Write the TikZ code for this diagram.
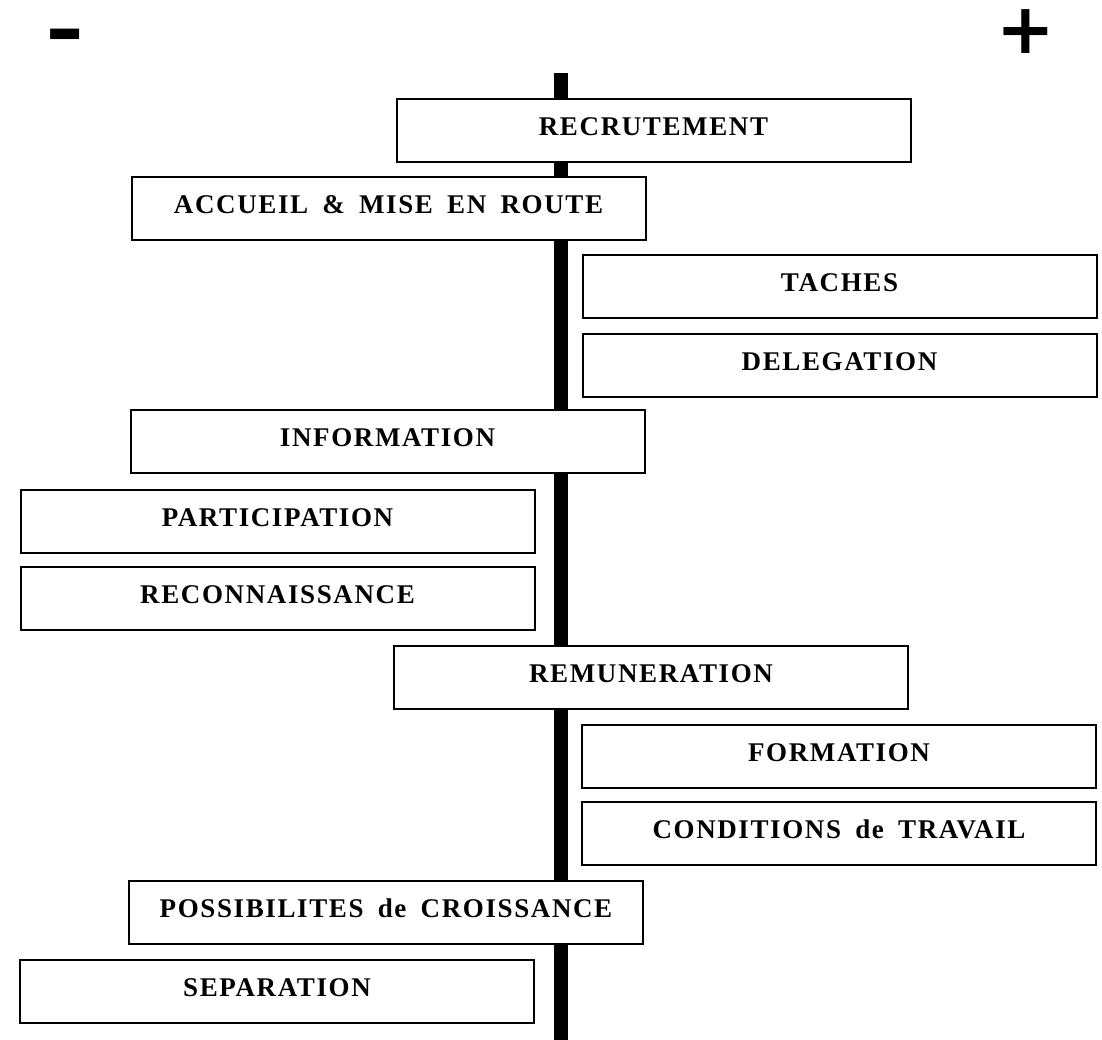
\documentclass[tikz,border=0pt]{standalone}
\usepackage{fontspec}
\setmainfont{Liberation Serif}
\newfontfamily\boxfont[LetterSpace=6,WordSpace=1.7]{Liberation Serif}
\newfontfamily\signfont{DejaVu Sans}
\begin{document}
\begin{tikzpicture}[x=1pt,y=-1pt,
  stage/.style={draw, line width=2pt, fill=white, rectangle, inner sep=0pt,
    minimum width=514pt, minimum height=63pt, text height=18pt, text depth=8pt,
    font=\boxfont\bfseries\fontsize{27}{30}\selectfont},
  axisline/.style={line width=14pt},
  sign/.style={inner sep=0pt, font=\signfont\bfseries\fontsize{70}{72}\selectfont}]
\useasboundingbox (0,0) rectangle (1102,1040);
\coordinate (top) at (561,73);
\coordinate (bottom) at (561,1040);
\draw[axisline] (top) -- (bottom);
\node[sign] (minus) at (65.5,42.5) {\scalebox{1.35}[1.05]{-}};
\node[sign] (plus) at (1026,32) {+};
\node[stage] (recrutement) at (653.5,130.5) {RECRUTEMENT};
\node[stage] (accueil) at (388.5,208.5) {ACCUEIL \& MISE EN ROUTE};
\node[stage] (taches) at (839.5,286.5) {TACHES};
\node[stage] (delegation) at (839.5,365) {DELEGATION};
\node[stage] (information) at (387.5,441.5) {INFORMATION};
\node[stage] (participation) at (277.5,521) {PARTICIPATION};
\node[stage] (reconnaissance) at (277.5,598.5) {RECONNAISSANCE};
\node[stage] (remuneration) at (651,677.5) {REMUNERATION};
\node[stage] (formation) at (839,756) {FORMATION};
\node[stage] (conditions) at (839,833) {CONDITIONS de TRAVAIL};
\node[stage] (possibilites) at (386,912) {POSSIBILITES de CROISSANCE};
\node[stage] (separation) at (277,991) {SEPARATION};
\end{tikzpicture}
\end{document}
